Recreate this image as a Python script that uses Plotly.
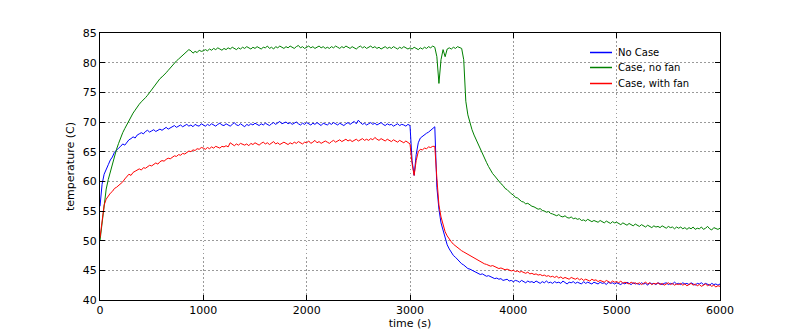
import plotly.graph_objects as go

times = list(range(0, 6001, 20))

no_case = [
    55.8, 59.5, 61.2, 61.9, 62.8, 63.6, 64.1, 64.9, 65.3, 65.6,
    65.9, 66.3, 66.1, 66.6, 67.0, 67.2, 67.5, 67.3, 67.8, 68.0,
    68.2, 68.0, 68.4, 68.6, 68.3, 68.5, 68.7, 68.4, 68.6, 68.8,
    68.6, 68.9, 69.1, 68.8, 69.0, 69.2, 69.4, 69.1, 69.3, 69.5,
    69.2, 69.4, 69.6, 69.3, 69.5, 69.2, 69.6, 69.4, 69.3, 69.7,
    69.5, 69.3, 69.6, 69.4, 69.7, 69.5, 69.3, 69.6, 69.8, 69.5,
    69.4, 69.7, 69.5, 69.3, 69.6, 69.9, 69.5, 69.4, 69.7, 69.5,
    69.2, 69.6, 69.4, 69.7, 69.5, 69.8, 69.6, 69.4, 69.7, 69.5,
    69.8, 69.6, 69.4, 69.7, 69.9, 69.6, 69.8, 70.1, 69.7, 69.9,
    70.0, 69.7, 69.9, 69.6, 69.8, 70.0, 69.7, 69.5, 69.8, 69.6,
    69.9, 69.7, 69.5, 69.8, 69.6, 69.9, 69.7, 69.4, 69.8, 69.6,
    69.5, 69.8, 69.6, 69.9, 69.7, 69.5, 69.8, 69.6, 69.4, 69.7,
    69.9, 69.6, 69.8, 70.1, 69.7, 70.3, 69.9, 69.6, 69.8, 69.5,
    69.7, 69.9, 69.6, 69.8, 69.5, 69.7, 69.9, 69.6, 69.4, 69.7,
    69.5, 69.6, 69.3, 69.5, 69.7, 69.4, 69.6, 69.5, 69.3, 69.6,
    69.4, 63.5, 61.0, 64.5, 66.5, 67.3, 67.6, 67.9, 68.1, 68.3,
    68.6, 69.0, 69.2, 59.0, 55.3, 53.0, 51.6, 50.3, 49.3, 48.6,
    48.0, 47.5, 47.2, 46.8, 46.4, 46.1, 45.9, 45.6, 45.3, 45.2,
    45.0, 44.8, 44.7, 44.4, 44.3, 44.4, 44.2, 44.0, 44.1, 43.9,
    43.8, 43.6, 43.7, 43.5, 43.6, 43.3, 43.4, 43.5, 43.2, 43.3,
    43.1, 43.3, 43.2, 43.0, 43.3, 43.1, 42.9, 43.2, 43.0, 43.1,
    42.9, 43.2, 43.0, 42.8, 43.1, 42.9, 43.2, 42.9, 43.0, 42.8,
    43.1, 42.9, 43.0, 42.8, 43.2, 42.9, 42.7, 43.0, 42.9, 43.1,
    42.8, 43.0, 42.9, 42.7, 43.1, 42.8, 43.0, 42.9, 42.7, 43.0,
    42.9, 42.7, 43.0, 42.8, 42.9, 42.6, 43.0, 42.8, 42.9, 42.7,
    42.9, 42.8, 42.6, 42.9, 42.7, 43.0, 42.8, 42.6, 42.9, 42.7,
    42.8, 42.6, 42.9, 42.7, 42.8, 42.5, 42.9, 42.7, 42.8, 42.6,
    42.9, 42.7, 42.6, 42.8, 42.9, 42.6, 42.8, 42.7, 43.0, 42.7,
    42.8, 42.6, 42.9, 42.7, 42.8, 42.6, 42.9, 42.7, 42.5, 42.8,
    42.7, 42.9, 42.6, 42.8, 42.7, 42.5, 42.8, 42.6, 42.7, 42.5,
    42.7,
]

case_no_fan = [
    50.0, 53.0, 56.5, 58.7, 60.3, 61.6, 63.0, 64.3, 65.4, 66.4,
    67.4, 68.2, 68.9, 69.6, 70.3, 70.9, 71.5, 72.0, 72.6, 73.0,
    73.4, 73.7, 74.1, 74.5, 75.0, 75.3, 75.8, 76.3, 76.8, 77.3,
    77.6, 77.9, 78.3, 78.7, 79.1, 79.6, 80.0, 80.3, 80.6, 80.9,
    81.2, 81.5, 81.9, 82.2, 82.0, 81.6, 81.9, 81.7, 82.1, 81.9,
    82.0, 82.2, 82.0, 82.3, 82.1, 82.4, 82.2, 82.5, 82.3, 82.1,
    82.4, 82.2, 82.5, 82.3, 82.6, 82.4, 82.2, 82.5, 82.3, 82.6,
    82.4, 82.7, 82.5, 82.3, 82.6, 82.4, 82.7, 82.5, 82.3, 82.6,
    82.5, 82.8, 82.4, 82.6, 82.3, 82.7, 82.5, 82.8, 82.6, 82.4,
    82.7, 82.5, 82.8, 82.6, 82.4, 82.7, 82.9, 82.5, 82.7, 82.4,
    82.6, 82.8, 82.5, 82.7, 82.4, 82.6, 82.8, 82.5, 82.7, 82.4,
    82.6, 82.4, 82.7, 82.5, 82.8, 82.6, 82.4, 82.7, 82.5, 82.8,
    82.6, 82.4, 82.7, 82.5, 82.3, 82.6, 82.8, 82.5, 82.7, 82.4,
    82.6, 82.8, 82.5, 82.7, 82.4, 82.6, 82.3, 82.5, 82.7, 82.4,
    82.6, 82.4, 82.7, 82.5, 82.3, 82.6, 82.4, 82.7, 82.5, 82.3,
    82.5, 82.3, 82.6, 82.4, 82.2, 82.5, 82.3, 82.6, 82.4, 82.7,
    82.5, 82.8, 82.6, 81.0, 76.5, 80.5, 82.2, 81.0, 82.3, 82.5,
    82.3, 82.6, 82.4, 82.7, 82.5, 82.4, 80.5, 73.5, 71.2, 69.8,
    68.7, 67.8, 67.0, 66.1, 65.3, 64.7, 64.0, 63.2, 62.5, 61.8,
    61.3, 60.9, 60.4, 60.0, 59.6, 59.3, 58.8, 58.6, 58.2, 57.9,
    57.7, 57.3, 57.2, 56.9, 56.6, 56.5, 56.2, 56.3, 56.0, 55.8,
    55.7, 55.5, 55.3, 55.4, 55.1, 55.0, 54.8, 54.9, 54.6, 54.5,
    54.4, 54.2, 54.4, 54.1, 54.0, 54.2, 53.9, 53.8, 54.0, 53.7,
    53.8, 53.6, 53.7, 53.4, 53.5, 53.3, 53.6, 53.4, 53.2, 53.4,
    53.3, 53.1, 53.4, 53.2, 53.0, 53.3, 53.1, 52.9, 53.2, 53.0,
    53.1, 52.9, 52.7, 53.0, 52.8, 52.6, 52.9, 52.7, 52.5, 52.8,
    52.6, 52.4, 52.7, 52.5, 52.3, 52.6, 52.4, 52.2, 52.5, 52.3,
    52.4, 52.2, 52.5, 52.3, 52.1, 52.4, 52.2, 52.3, 52.0, 52.3,
    52.1, 52.3, 52.0, 52.2, 51.9, 52.2, 52.0, 52.3, 51.9, 52.1,
    52.0, 52.3, 51.9, 52.1, 52.4, 52.0, 51.8, 52.2, 52.0, 51.9,
    52.1,
]

case_with_fan = [
    50.5, 53.8, 56.0, 57.0, 57.6, 58.0, 58.3, 58.8, 59.0, 59.3,
    59.5, 59.9, 60.4, 60.8, 61.2, 61.0, 61.5, 61.7, 61.9, 62.1,
    61.9, 62.3, 62.2, 62.5, 62.7, 62.6, 62.9, 63.1, 62.9, 63.3,
    63.5, 63.4, 63.7, 63.9, 63.8, 64.1, 64.3, 64.2, 64.5, 64.4,
    64.7, 64.6, 64.9, 65.1, 65.0, 65.3, 65.2, 65.5, 65.4, 65.7,
    65.6, 65.4, 65.7, 65.5, 65.8, 65.6, 65.9, 65.7, 65.6, 65.9,
    65.8, 66.0, 65.8, 66.5, 66.2, 66.0, 66.3, 66.1, 66.4, 66.2,
    66.1, 66.3, 66.0, 66.4, 66.2, 66.5, 66.3, 66.1, 66.4, 66.6,
    66.3, 66.5, 66.2, 66.4, 66.7, 66.3, 66.5, 66.2, 66.4, 66.6,
    66.4, 66.2, 66.5, 66.3, 66.6, 66.4, 66.7, 66.5, 66.3, 66.6,
    66.5, 66.8, 66.4, 66.6, 66.9, 66.5, 66.7, 66.4, 66.6, 66.8,
    66.6, 66.4, 66.7, 66.9, 66.6, 66.8, 67.0, 66.7, 66.9, 67.1,
    66.8, 67.0, 66.7, 66.9, 67.1, 66.8, 67.0, 67.2, 66.9, 67.1,
    66.9, 67.2, 67.0, 67.4, 67.1, 66.9, 67.2, 67.0, 66.8, 67.1,
    66.9, 66.7, 67.0, 66.8, 66.6, 66.9, 66.7, 66.5, 66.8, 66.6,
    66.3, 63.0, 61.0, 63.5, 65.0, 65.4, 65.3, 65.6, 65.5, 65.8,
    65.7, 65.9, 65.9, 60.5, 56.0, 54.0, 52.5, 51.5, 50.8, 50.2,
    49.8, 49.4, 49.1, 48.8, 48.6, 48.3, 48.1, 47.9, 47.6, 47.4,
    47.2, 47.0, 46.8, 46.6, 46.5, 46.3, 46.1, 46.0, 45.9, 45.7,
    45.8, 45.6, 45.5, 45.3, 45.4, 45.2, 45.1, 45.2, 45.0, 44.9,
    45.0, 44.8, 44.9, 44.7, 44.8, 44.6, 44.5, 44.7, 44.4, 44.5,
    44.3, 44.4, 44.2, 44.3, 44.1, 44.2, 44.0, 44.1, 43.9, 44.0,
    43.8, 44.0, 43.7, 43.9, 43.6, 43.8, 43.7, 43.5, 43.8, 43.6,
    43.5, 43.7, 43.4, 43.6, 43.3, 43.5, 43.4, 43.2, 43.5, 43.3,
    43.4, 43.1, 43.3, 43.2, 43.0, 43.3, 43.1, 42.9, 43.2, 43.0,
    43.1, 42.9, 43.2, 42.8, 43.0, 42.9, 42.7, 43.0, 42.8, 42.9,
    42.7, 42.9, 42.6, 42.8, 43.0, 42.7, 42.9, 42.6, 42.8, 42.7,
    42.9, 42.6, 42.8, 42.5, 42.7, 42.9, 42.6, 42.8, 42.5, 42.7,
    42.6, 42.8, 42.5, 42.7, 42.4, 42.6, 42.8, 42.5, 42.7, 42.4,
    42.6, 42.3, 42.5, 42.7, 42.4, 42.6, 42.3, 42.5, 42.2, 42.4,
    42.3,
]

series_names = ["No Case", "Case, no fan", "Case, with fan"]
series_values = [no_case, case_no_fan, case_with_fan]
series_colors = ["#0000ff", "#008000", "#ff0000"]

x_ticks = [0, 1000, 2000, 3000, 4000, 5000, 6000]
y_ticks = [40, 45, 50, 55, 60, 65, 70, 75, 80, 85]

fig = go.Figure()
for name, vals, col in zip(series_names, series_values, series_colors):
    fig.add_trace(go.Scatter(x=times, y=vals, mode="lines", name=name,
                             line=dict(color=col, width=1), showlegend=False))

font_fam = "DejaVu Sans"
axis_common = dict(
    showline=True, linecolor="black", linewidth=1, mirror="ticks",
    ticks="inside", ticklen=5, tickcolor="black", tickwidth=1,
    showgrid=True, gridcolor="#9a9a9a", griddash="1.5px,2.5px", gridwidth=1,
    zeroline=False, automargin=False,
    tickfont=dict(family=font_fam, size=11, color="black"),
)

fig.update_xaxes(range=[0, 6000], tickvals=x_ticks,
                 title=dict(text="time (s)", font=dict(family=font_fam, size=11, color="black"), standoff=3),
                 **axis_common)
fig.update_yaxes(range=[40, 85], tickvals=y_ticks,
                 title=dict(text="temperature (C)", font=dict(family=font_fam, size=11, color="black"), standoff=5),
                 **axis_common)

# legend drawn in paper coordinates (plot area is 620 x 267 px)
plot_w, plot_h = 620.0, 267.0
leg_line_x0, leg_line_x1, leg_text_x = 490.0, 512.0, 516.0
leg_rows = [247.5, 232.5, 216.5]
for name, col, ry in zip(series_names, series_colors, leg_rows):
    fig.add_shape(type="line", xref="paper", yref="paper",
                  x0=leg_line_x0 / plot_w, x1=leg_line_x1 / plot_w,
                  y0=ry / plot_h, y1=ry / plot_h,
                  line=dict(color=col, width=1.5))
    fig.add_annotation(xref="paper", yref="paper", x=leg_text_x / plot_w, y=ry / plot_h,
                       xanchor="left", yanchor="middle", text=name, showarrow=False,
                       font=dict(family=font_fam, size=10, color="black"))

fig.update_layout(
    width=792, height=325,
    margin=dict(l=92, r=80, t=25, b=33, autoexpand=False),
    paper_bgcolor="white", plot_bgcolor="white",
    font=dict(family=font_fam, size=11, color="black"),
    showlegend=False,
)

fig.write_html("out.html")
